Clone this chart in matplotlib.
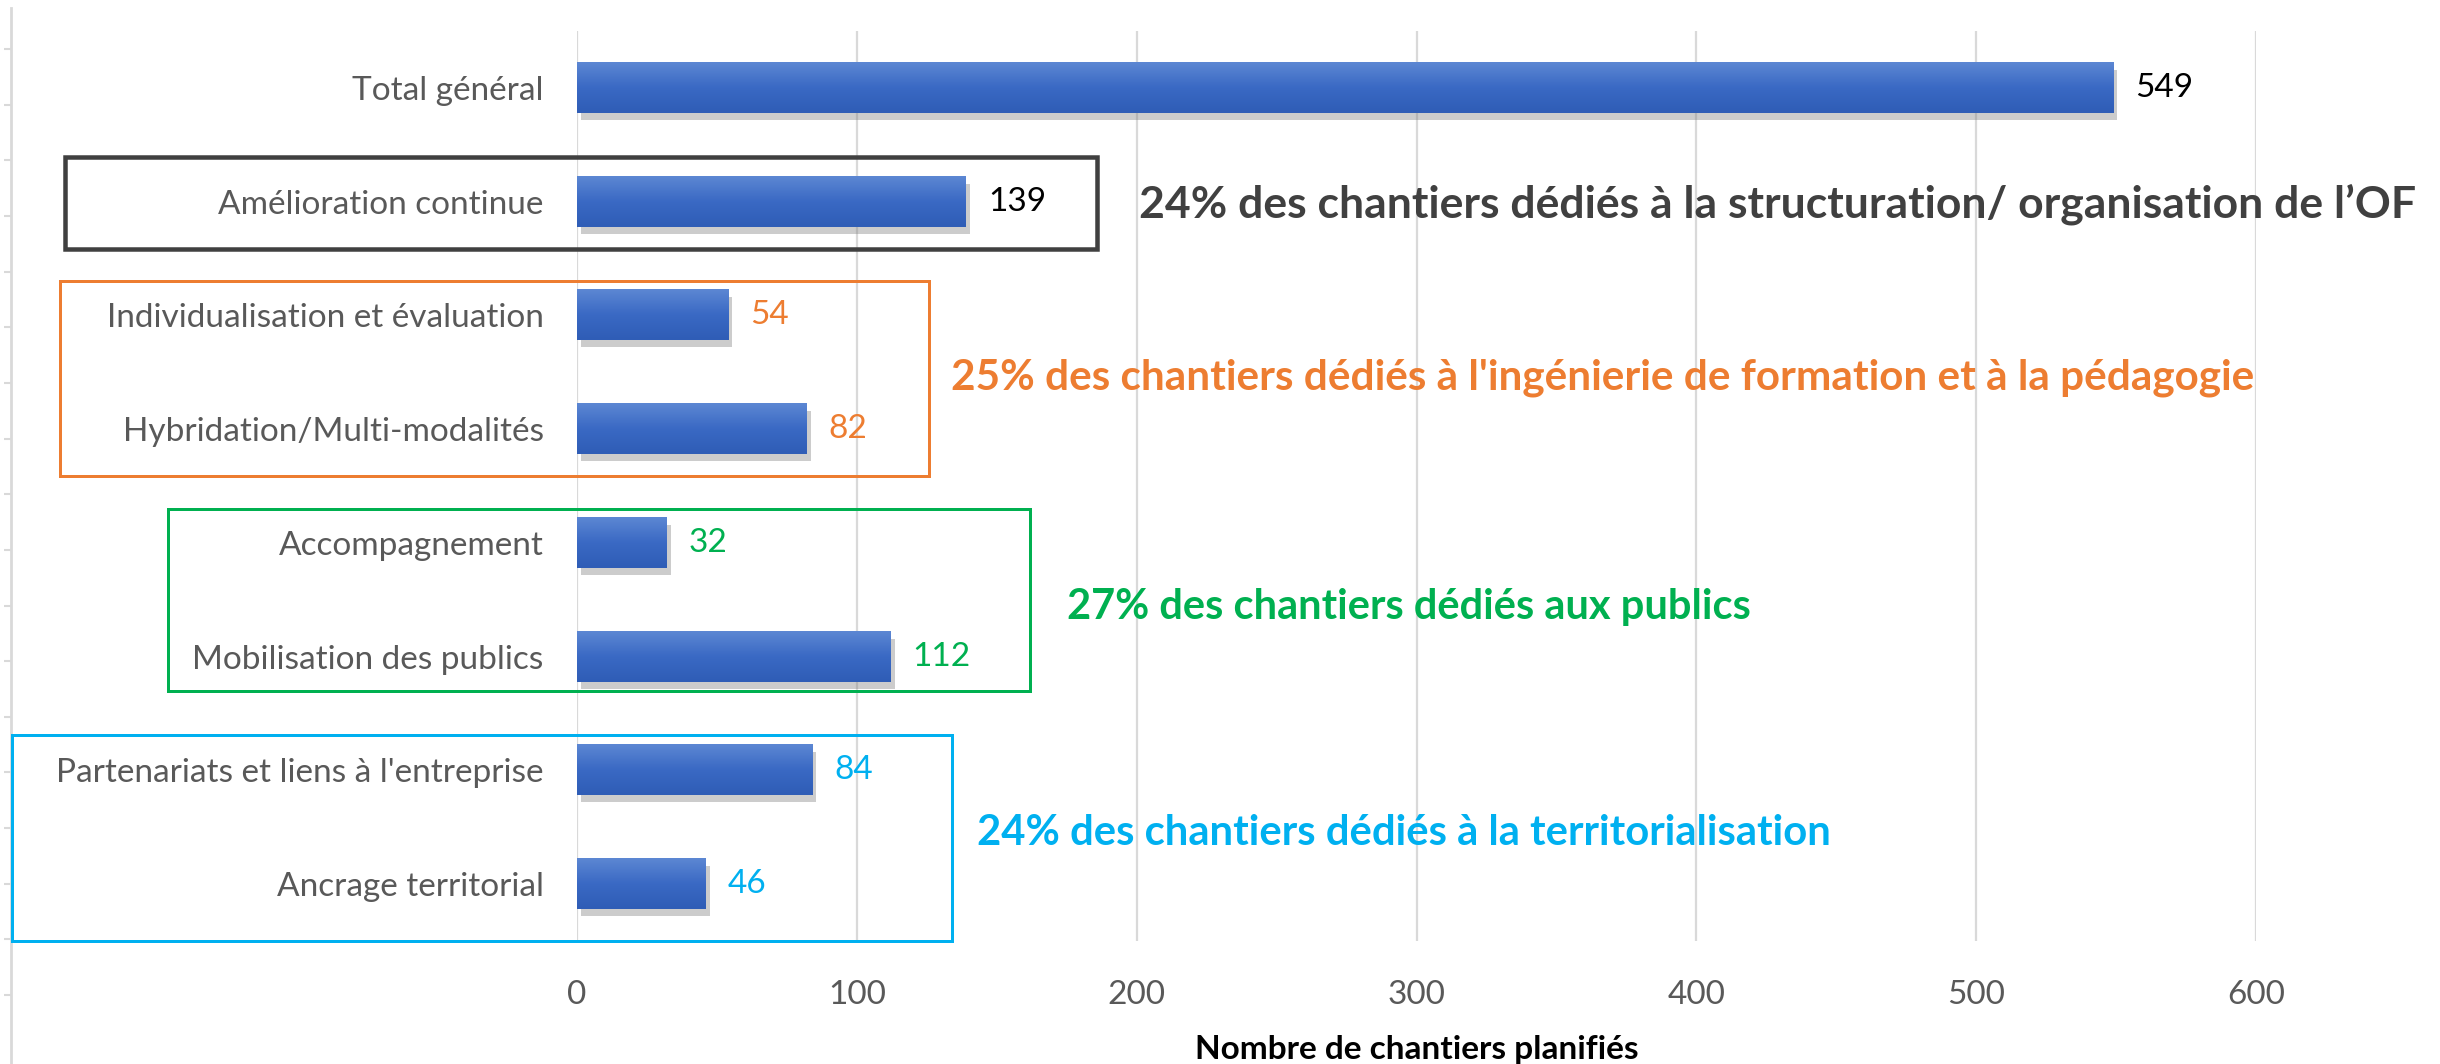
import numpy as np
import matplotlib.pyplot as plt
from matplotlib import patheffects, transforms
from matplotlib.patches import Rectangle
from matplotlib.colors import LinearSegmentedColormap

plt.rcParams['font.family'] = ['Lato', 'DejaVu Sans']

categories = ["Total général", "Amélioration continue", "Individualisation et évaluation",
              "Hybridation/Multi-modalités", "Accompagnement", "Mobilisation des publics",
              "Partenariats et liens à l'entreprise", "Ancrage territorial"]
values = [549, 139, 54, 82, 32, 112, 84, 46]
value_colors = ["black", "black", "#ED7D31", "#ED7D31", "#00B050", "#00B050", "#00B0F0", "#00B0F0"]

# groups of categories (first, last) with their summary text
groups = [(1, 1), (2, 3), (4, 5), (6, 7)]
group_texts = ["24% des chantiers dédiés à la structuration/ organisation de l’OF",
               "25% des chantiers dédiés à l'ingénierie de formation et à la pédagogie",
               "27% des chantiers dédiés aux publics",
               "24% des chantiers dédiés à la territorialisation"]
group_colors = ["#404040", "#ED7D31", "#00B050", "#00B0F0"]

xticks = [0, 100, 200, 300, 400, 500, 600]
xlabel = "Nombre de chantiers planifiés"

W, H = 2440, 1064
fig = plt.figure(figsize=(W / 100, H / 100), dpi=100)
ax = fig.add_axes([577 / W, 1 - 941 / H, (2256 - 577) / W, (941 - 31) / H])

y = np.arange(len(categories))
bh = 0.44
shadow = [patheffects.SimplePatchShadow(offset=(3, -5), shadow_rgbFace='#808080', alpha=0.4),
          patheffects.Normal()]
ax.barh(y, values, height=bh, color='#3F6DC4', zorder=3, path_effects=shadow)

# gradient fill on each bar
cmap = LinearSegmentedColormap.from_list("bar", ["#5C87D3", "#3A69C4", "#2F5DB6"])
grad = np.linspace(0, 1, 64).reshape(-1, 1)
for yi, v in zip(y, values):
    ax.imshow(grad, extent=(0, v, yi - bh / 2, yi + bh / 2), origin='lower',
              cmap=cmap, aspect='auto', zorder=4)

for yi, v, c in zip(y, values, value_colors):
    ax.annotate(str(v), (v, yi), xytext=(16, 0), textcoords='offset points',
                va='center', ha='left', color=c, fontsize=24, zorder=5)

ax.set_xlim(0, 600)
ax.set_ylim(len(categories) - 0.5, -0.5)
ax.set_xticks(xticks)
ax.set_yticks(y, categories)
ax.tick_params(axis='y', length=0, pad=24, labelsize=24, labelcolor='#595959')
ax.tick_params(axis='x', length=0, pad=28, labelsize=24, labelcolor='#595959')
ax.xaxis.grid(True, color='#D9D9D9', lw=1.6)
ax.set_axisbelow(True)
for s in ax.spines.values():
    s.set_visible(False)
ax.set_xlabel(xlabel, fontsize=24, fontweight='bold', labelpad=18)

# group boxes (figure pixels: left, top, right, bottom)
boxes = [(65, 157, 1097, 249), (60, 281, 929, 476), (168, 509, 1030, 691), (12, 735, 952, 941)]
box_lw = [4.5, 3, 3, 3]
for (l, t, r, b), c, lw in zip(boxes, group_colors, box_lw):
    fig.add_artist(Rectangle((l / W, 1 - b / H), (r - l) / W, (b - t) / H,
                             transform=fig.transFigure, fill=False, ec=c, lw=lw * 0.72,
                             zorder=6))

# group texts
text_x = [1139, 951, 1067, 977]
text_dy = [0.02, 0.05, 0.06, 0.05]
text_size = [32, 30.4, 30, 30.2]
blend = transforms.blended_transform_factory(fig.transFigure, ax.transData)
for (a, b), t, c, tx, dy, fs in zip(groups, group_texts, group_colors, text_x, text_dy, text_size):
    ax.text(tx / W, (a + b) / 2 + dy, t, transform=blend, color=c, fontsize=fs,
            fontweight='bold', va='center', ha='left', clip_on=False, zorder=6)

# outer frame line on the far left
ax2 = fig.add_axes([11 / W, 0, 0.0001, 1 - 8 / H])
ax2.set_ylim(H, 8)
ax2.set_yticks(np.arange(49, 1000, 55.65))
ax2.set_xticks([])
ax2.tick_params(axis='y', length=5, width=1.5, color='#D9D9D9', labelleft=False)
for k, s in ax2.spines.items():
    s.set_visible(k == 'left')
ax2.spines['left'].set_color('#D9D9D9')
ax2.spines['left'].set_linewidth(2)
ax2.patch.set_visible(False)

fig.savefig("out.png", dpi=100)
